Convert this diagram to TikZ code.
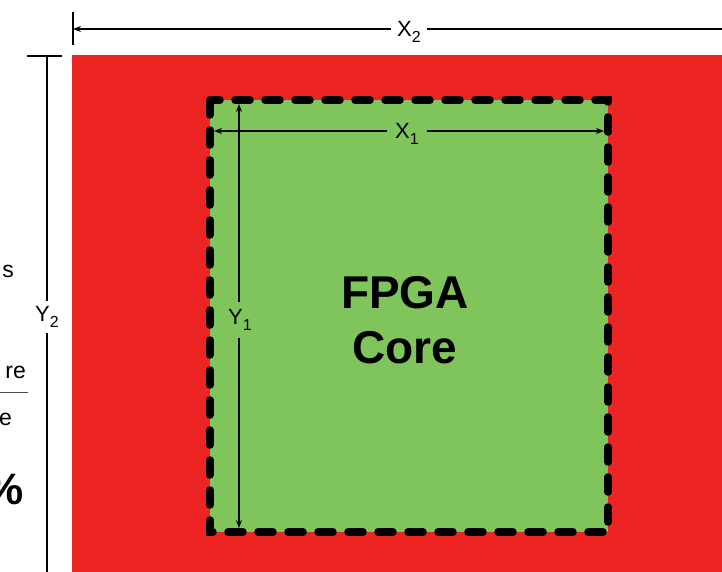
\documentclass[tikz,border=0pt]{standalone}
\usepackage{fontspec}
\setmainfont{Liberation Sans}
\usetikzlibrary{arrows.meta}
\definecolor{diered}{RGB}{237,36,36}
\definecolor{coregreen}{RGB}{128,196,92}
\newcommand{\dimsub}[1]{\raisebox{-0.45ex}{\fontsize{16}{16}\selectfont #1}}
\tikzset{
  dimline/.style={line width=1.1pt, draw=black},
  dimarrow/.style={dimline, -{Stealth[length=8pt,width=6pt]}},
  dimlabel/.style={font=\fontsize{22}{24}\selectfont, inner sep=0pt, text=black},
  cutlabel/.style={font=\fontsize{23}{26}\selectfont, inner sep=0pt, anchor=base east},
}
\begin{document}
\begin{tikzpicture}[x=1pt,y=-1pt]
\useasboundingbox (0,0) rectangle (722,571);
\clip (0,0) rectangle (722,571);
% die
\fill[diered] (72,55) rectangle (730,580);
% core
\fill[coregreen] (210,100) rectangle (608,532);
\draw[line width=7.5pt, line cap=round, dash pattern=on 15pt off 15pt, black] (210,100) rectangle (608,532);
% X2 dimension
\coordinate (x2l) at (73,29);
\coordinate (x2r) at (730,29);
\draw[dimline] (73,12) -- (73,45);
\node[dimlabel] (x2) at (409,32) {X\dimsub{2}};
\draw[dimarrow] (x2.west) ++(-6,-3) -- (x2l);
\draw[dimline] (x2.east) ++(6,-3) -- (x2r);
% Y2 dimension
\coordinate (y2t) at (47,56);
\coordinate (y2b) at (47,580);
\draw[dimline] (27,56) -- (62,56);
\node[dimlabel] (y2) at (47,317) {Y\dimsub{2}};
\draw[dimline] (y2.north) ++(0,-6) -- (y2t);
\draw[dimline] (y2.south) ++(0,6) -- (y2b);
% X1 dimension
\coordinate (x1l) at (214,131);
\coordinate (x1r) at (604,131);
\node[dimlabel] (x1) at (407,134) {X\dimsub{1}};
\draw[dimarrow] (x1.west) ++(-8,-3) -- (x1l);
\draw[dimarrow] (x1.east) ++(8,-3) -- (x1r);
% Y1 dimension
\coordinate (y1t) at (239,104);
\coordinate (y1b) at (239,528);
\node[dimlabel] (y1) at (240,320) {Y\dimsub{1}};
\draw[dimarrow] (y1.north) ++(-1,-8) -- (y1t);
\draw[dimarrow] (y1.south) ++(-1,8) -- (y1b);
% core label
\node[font=\fontsize{46}{55}\selectfont\bfseries, align=center, inner sep=0pt] (core) at (405,320) {FPGA\\Core};
% cut-off text on the left
\node[cutlabel] (ts) at (14,277) {s};
\node[cutlabel] (tre) at (26,378) {re};
\coordinate (barl) at (0,392);
\coordinate (barr) at (28,392);
\draw[line width=0.9pt, black!70] (barl) -- (barr);
\node[cutlabel] (te) at (12,425) {e};
\node[font=\fontsize{44}{50}\selectfont\bfseries, inner sep=0pt, anchor=base east] (tpc) at (24,504) {\%};
\end{tikzpicture}
\end{document}
